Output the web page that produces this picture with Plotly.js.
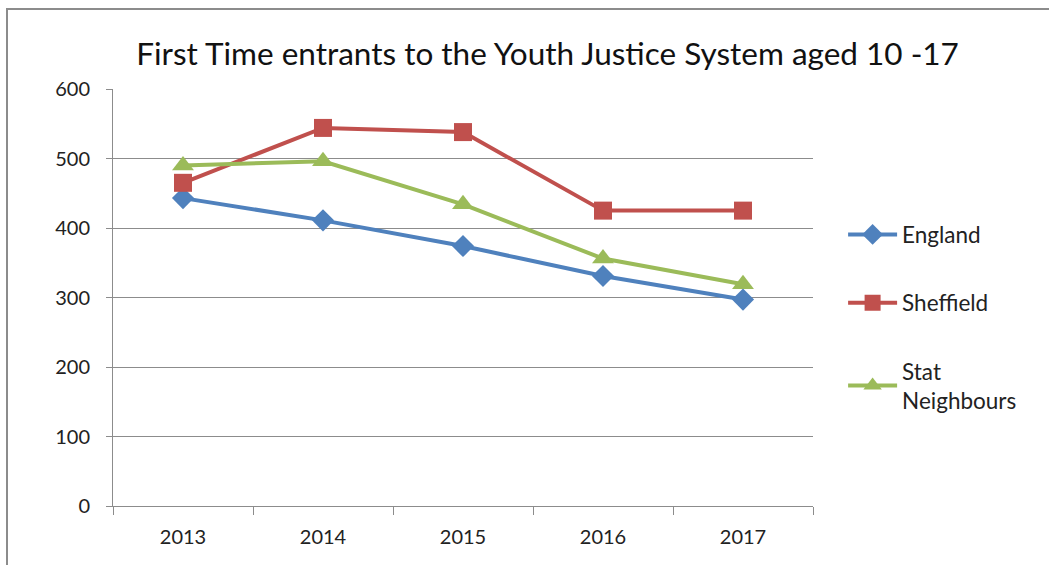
<!DOCTYPE html>
<html>
<head>
<meta charset="utf-8">
<script src="https://cdn.plot.ly/plotly-3.0.1.min.js"></script>
<style>
html,body{margin:0;padding:0;background:#fff;overflow:hidden;}
#wrap{position:absolute;left:0;top:0;width:1049px;height:565px;}
#frame{position:absolute;left:6px;top:8px;width:1060px;height:600px;border:2px solid #8c8c8c;box-sizing:border-box;pointer-events:none;z-index:5;}
#chart{position:absolute;left:0;top:0;width:1049px;height:565px;}
</style>
</head>
<body>
<div id="wrap">
<div id="chart"></div>
<div id="frame"></div>
</div>
<script>
const years = ["2013", "2014", "2015", "2016", "2017"];
const england = [443, 411, 374, 331, 297];
const sheffield = [465, 544, 538, 425, 425];
const statNeighbours = [490, 496, 434, 356, 319];
const yTicks = [0, 100, 200, 300, 400, 500, 600];

const font = "Lato, 'Open Sans', sans-serif";

const traces = [
  {x: years, y: england, name: "England", type: "scatter", mode: "lines+markers",
   line: {color: "#4F81BD", width: 4}, marker: {symbol: "diamond", size: 17, color: "#4F81BD"},
   legendgroup: "a"},
  {x: years, y: sheffield, name: "Sheffield", type: "scatter", mode: "lines+markers",
   line: {color: "#C0504D", width: 4}, marker: {symbol: "square", size: 18, color: "#C0504D"},
   legendgroup: "b"},
  {x: years, y: statNeighbours, name: "Stat<br>Neighbours", type: "scatter", mode: "lines+markers",
   line: {color: "#9BBB59", width: 4}, marker: {symbol: "triangle-up", size: 19, color: "#9BBB59"},
   legendgroup: "c"}
];

const layout = {
  width: 1049, height: 565,
  margin: {l: 113, r: 236, t: 89, b: 59},
  paper_bgcolor: "#fff", plot_bgcolor: "#fff",
  title: {text: "First Time entrants to the Youth Justice System aged 10 -17",
          font: {family: font, size: 31.5, color: "#111"}, x: 0.522, xanchor: "center", y: 0.905, yanchor: "middle"},
  xaxis: {type: "category", range: [-0.5, 4.5], showgrid: false, showline: true, linecolor: "#8c8c8c", linewidth: 1,
          ticks: "outside", tickson: "boundaries", ticklen: 8, tickcolor: "#8c8c8c", ticklabelstandoff: 13,
          tickfont: {family: font, size: 20, color: "#222"}, fixedrange: true},
  yaxis: {range: [0, 600], tickvals: yTicks, showgrid: true, gridcolor: "#8c8c8c", gridwidth: 1,
          showline: true, linecolor: "#8c8c8c", linewidth: 1, zeroline: false,
          ticks: "outside", ticklen: 6, tickcolor: "#8c8c8c", ticklabelstandoff: 12,
          tickfont: {family: font, size: 20, color: "#222"}, fixedrange: true},
  legend: {x: 1.043, y: 0.702, xanchor: "left", yanchor: "top", tracegroupgap: 36,
           itemwidth: 49, font: {family: font, size: 22.5, color: "#222"}, bgcolor: "rgba(0,0,0,0)"},
  showlegend: true
};

Plotly.newPlot("chart", traces, layout, {staticPlot: true, displayModeBar: false});
</script>
</body>
</html>
